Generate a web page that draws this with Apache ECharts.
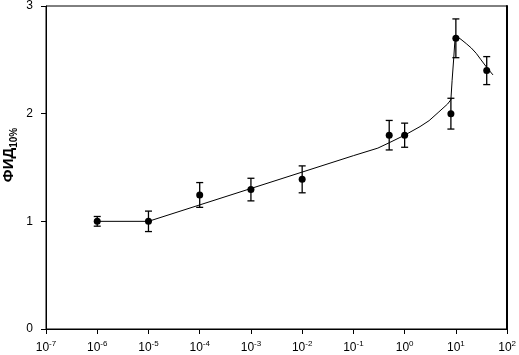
<!DOCTYPE html>
<html>
<head>
<meta charset="utf-8">
<script src="https://cdn.jsdelivr.net/npm/echarts@6/dist/echarts.min.js"></script>
<style>
html,body{margin:0;padding:0;background:#fff;}
#chart{width:519px;height:355px;}
</style>
</head>
<body>
<div id="chart"></div>
<script>
// Measured points (concentration, ФИД10%, error)
const pointX = [1e-6, 1e-5, 1e-4, 1e-3, 1e-2, 0.5, 1, 8, 10, 40];
const pointY = [1.0, 1.0, 1.245, 1.295, 1.39, 1.80, 1.80, 2.0, 2.70, 2.40];
const pointErr = [0.045, 0.095, 0.115, 0.105, 0.125, 0.137, 0.112, 0.143, 0.18, 0.13];

// Fitted curve
const curveX = [1e-6, 1e-5, 1e-1, 0.3, 0.5, 1, 2, 3, 4.5, 6.9, 8, 8.45, 9.1, 9.55, 10, 11, 12.6, 16, 20, 25, 31, 40, 53];
const curveY = [1.0, 1.0, 1.61, 1.68, 1.73, 1.80, 1.88, 1.935, 2.01, 2.09, 2.13, 2.31, 2.52, 2.67, 2.715, 2.71, 2.69, 2.65, 2.61, 2.56, 2.50, 2.43, 2.36];

// Axis ticks
const xMinExp = -7, xMaxExp = 2;
const yTicks = [0, 1, 2, 3];

const yTitleMain = 'ФИД';
const yTitleSub = '10%';

const FONT = 'Liberation Sans, Arial, sans-serif';

const chart = echarts.init(document.getElementById('chart'), null, {renderer: 'canvas'});

const pts = pointX.map((x, i) => [x, pointY[i], pointErr[i]]);
const curve = curveX.map((x, i) => [x, curveY[i]]);

chart.setOption({
  animation: false,
  backgroundColor: '#fff',
  grid: {left: 46, right: 10, top: 5, bottom: 26, containLabel: false, show: true, borderColor: '#000', borderWidth: 1, backgroundColor: 'transparent'},
  xAxis: [{
    type: 'log',
    logBase: 10,
    min: Math.pow(10, xMinExp),
    max: Math.pow(10, xMaxExp),
    interval: 1,
    axisLine: {show: true, onZero: false, lineStyle: {color: '#000', width: 1}},
    axisTick: {show: true, inside: false, length: 5, lineStyle: {color: '#000', width: 1}},
    splitLine: {show: false},
    axisLabel: {
      margin: 11,
      color: '#000',
      fontFamily: FONT,
      formatter: function (v) {
        const e = Math.round(Math.log10(v));
        return '{b|10}{s|' + e + '}';
      },
      rich: {
        b: {fontSize: 12, fontFamily: FONT, color: '#000', lineHeight: 14, verticalAlign: 'bottom'},
        s: {fontSize: 8, fontFamily: FONT, color: '#000', lineHeight: 10, verticalAlign: 'bottom', padding: [0, 0, 6, 0]}
      }
    }
  }],
  yAxis: [{
    type: 'value',
    min: yTicks[0],
    max: yTicks[yTicks.length - 1],
    interval: 1,
    axisLine: {show: true, onZero: false, lineStyle: {color: '#000', width: 1}},
    axisTick: {show: true, inside: false, length: 5, lineStyle: {color: '#000', width: 1}},
    splitLine: {show: false},
    axisLabel: {margin: 13, color: '#000', fontSize: 12, fontFamily: FONT}
  }, {
    type: 'value', position: 'right', min: 0, max: 1,
    axisLine: {show: true, onZero: false, lineStyle: {color: '#000', width: 2}},
    axisTick: {show: false}, axisLabel: {show: false}, splitLine: {show: false}
  }],
  graphic: [{
    type: 'text',
    x: 11,
    y: 155,
    rotation: Math.PI / 2,
    style: {
      text: '{a|' + yTitleMain + '}{s|' + yTitleSub + '}',
      align: 'center',
      verticalAlign: 'middle',
      fill: '#000',
      rich: {
        a: {fontSize: 15, fontWeight: 'bold', fontFamily: FONT, fill: '#000', lineHeight: 17, verticalAlign: 'bottom', padding: [0, 0, 3, 0]},
        s: {fontSize: 10, fontWeight: 'bold', fontFamily: FONT, fill: '#000', lineHeight: 11, verticalAlign: 'bottom'}
      }
    }
  }],
  series: [{
    type: 'line',
    data: curve,
    smooth: false,
    showSymbol: false,
    symbol: 'none',
    lineStyle: {color: '#000', width: 1},
    z: 2
  }, {
    type: 'custom',
    data: pts,
    renderItem: function (params, api) {
      const x = api.value(0), y = api.value(1), e = api.value(2);
      const top = api.coord([x, y + e]);
      const bot = api.coord([x, y - e]);
      const hw = 3.5;
      const st = {stroke: '#000', lineWidth: 1.3};
      return {
        type: 'group',
        children: [
          {type: 'line', shape: {x1: top[0], y1: top[1], x2: bot[0], y2: bot[1]}, style: st},
          {type: 'line', shape: {x1: top[0] - hw, y1: top[1], x2: top[0] + hw, y2: top[1]}, style: st},
          {type: 'line', shape: {x1: bot[0] - hw, y1: bot[1], x2: bot[0] + hw, y2: bot[1]}, style: st}
        ]
      };
    },
    z: 3
  }, {
    type: 'scatter',
    data: pts.map(p => [p[0], p[1]]),
    symbol: 'circle',
    symbolSize: 7,
    itemStyle: {color: '#000', opacity: 1},
    emphasis: {disabled: true},
    z: 4
  }]
});
</script>
</body>
</html>
